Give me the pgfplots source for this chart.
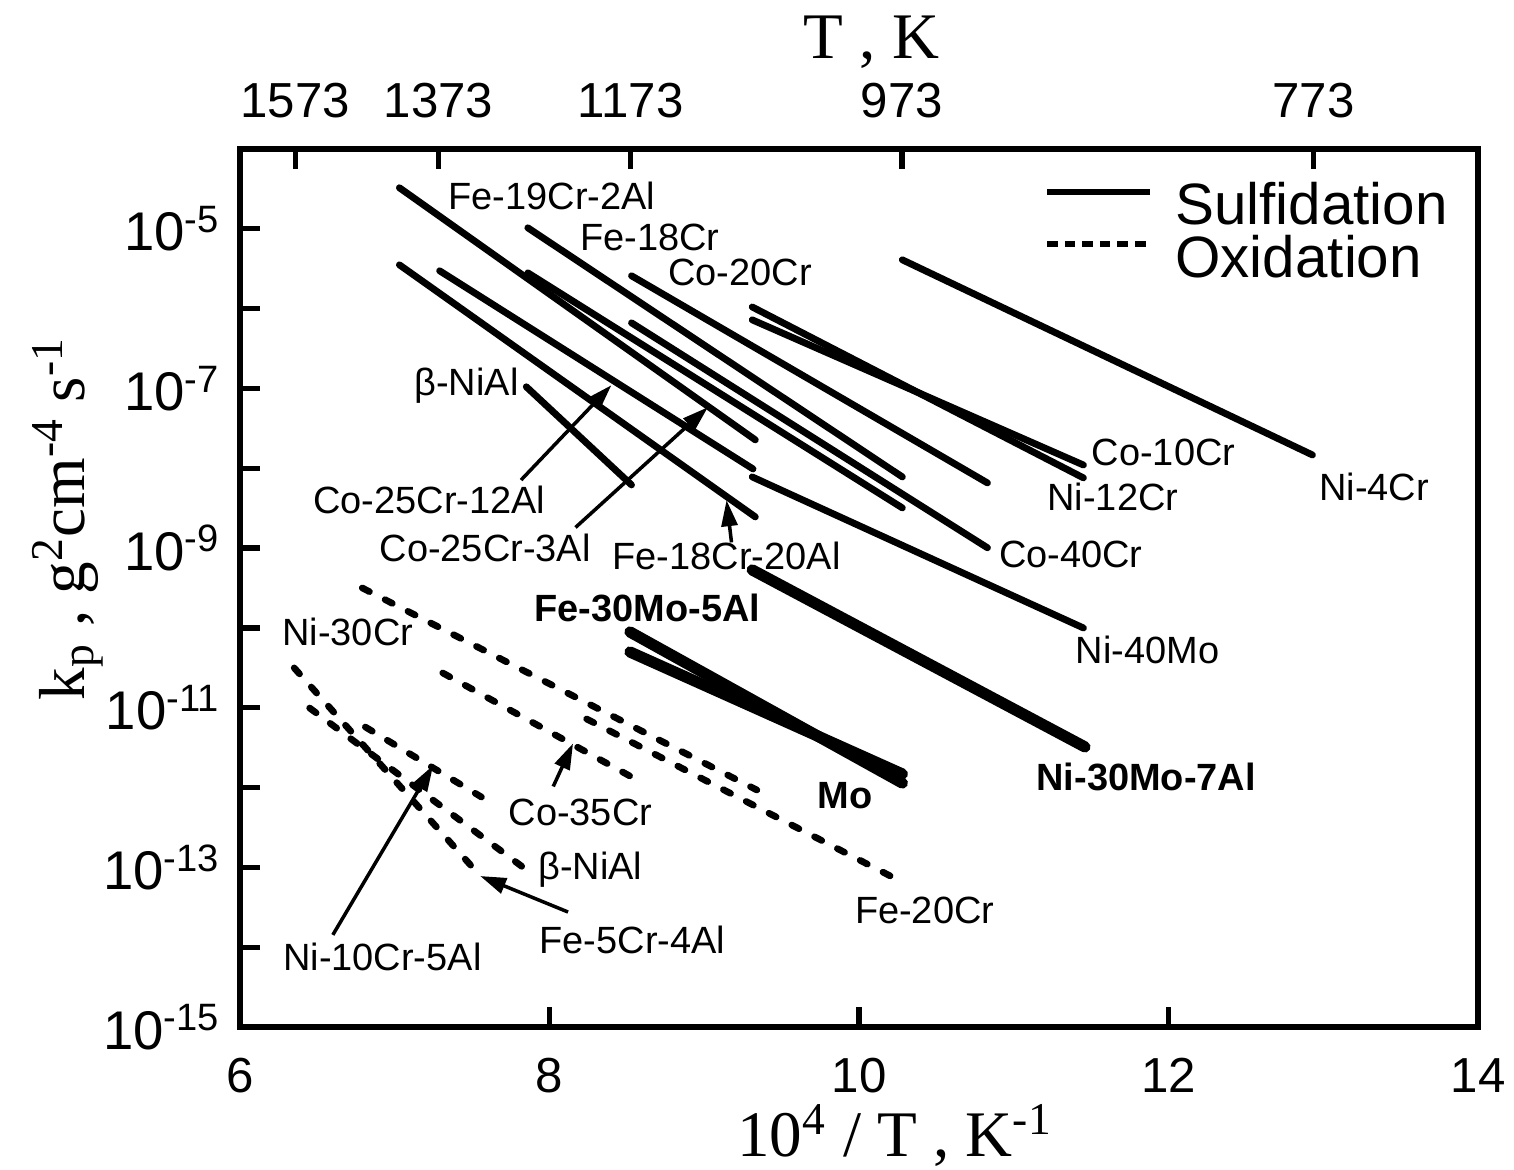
\documentclass[border=0pt]{standalone}
\usepackage{pgfplots}
\pgfplotsset{compat=1.18}
\usepackage{fontspec}
\setmainfont{Liberation Sans}
\newfontfamily\timesfont{Liberation Serif}
\usetikzlibrary{arrows.meta}

\newcommand{\lbl}{\fontsize{10.8}{12}\selectfont}
\newcommand{\axlbl}{\timesfont\fontsize{18.5}{20}\selectfont}

\tikzset{
  sulf/.style={black, line width=1.95pt, line cap=round},
  thick sulf/.style={black, line width=3.2pt, line cap=round},
  oxid/.style={black, line width=1.9pt, line cap=round, dash pattern=on 2.3pt off 5pt},
}

\begin{document}
\begin{tikzpicture}
\pgfplotsset{
  frame/.style={
    scale only axis, width=12.38cm, height=8.78cm,
    xmin=6, xmax=14,
    tick align=inside, major tick length=0.2cm,
    axis line style={line width=1.5pt},
    every tick/.style={line width=1.5pt, black},
    tick label style={font=\fontsize{14}{16}\selectfont},
    /pgf/number format/assume math mode=true,
  },
}
\begin{axis}[frame, name=main, ymode=log, ymin=1e-15, ymax=1e-4,
  xtick={6,8,10,12,14}, xtick pos=left, ytick pos=left,
  ytick={1e-15,1e-14,1e-13,1e-12,1e-11,1e-10,1e-9,1e-8,1e-7,1e-6,1e-5},
  yticklabels={{10\textsuperscript{-15}},{},{10\textsuperscript{-13}},{},{10\textsuperscript{-11}},{},{10\textsuperscript{-9}},{},{10\textsuperscript{-7}},{},{10\textsuperscript{-5}}},
  yminorticks=false,
  xticklabel style={yshift=-0.19cm},
  yticklabel style={xshift=-0.07cm, font=\fontsize{15.5}{17}\selectfont},
  clip=false]

% sulfidation
\addplot[sulf] coordinates {(7.03,3.27e-5) (9.33,2.27e-8)};   % Fe-19Cr-2Al
\addplot[sulf] coordinates {(7.86,1.03e-5) (10.28,7.80e-9)};  % Fe-18Cr
\addplot[sulf] coordinates {(8.53,2.58e-6) (10.83,6.56e-9)};  % Co-20Cr
\addplot[sulf] coordinates {(7.86,2.81e-6) (10.28,3.19e-9)};
\addplot[sulf] coordinates {(8.53,6.64e-7) (10.83,1.01e-9)};  % Co-40Cr
\addplot[sulf] coordinates {(7.29,2.98e-6) (9.315,9.82e-9)};  % Co-25Cr-12Al
\addplot[sulf] coordinates {(7.03,3.54e-6) (9.33,2.46e-9)};   % Fe-18Cr-20Al
\addplot[sulf] coordinates {(9.31,1.05e-6) (11.45,7.59e-9)};  % Ni-12Cr
\addplot[sulf] coordinates {(9.31,7.24e-7) (11.45,1.10e-8)};  % Co-10Cr
\addplot[sulf] coordinates {(10.28,4.09e-6) (12.93,1.47e-8)}; % Ni-4Cr
\addplot[sulf] coordinates {(9.31,7.80e-9) (11.45,1.00e-10)}; % Ni-40Mo
\addplot[sulf] coordinates {(7.85,1.05e-7) (8.53,6.19e-9)};   % beta-NiAl
\addplot[thick sulf] coordinates {(9.31,5.33e-10) (11.46,3.23e-12)}; % Ni-30Mo-7Al
\addplot[thick sulf] coordinates {(8.52,8.91e-11) (10.28,1.14e-12)}; % Fe-30Mo-5Al
\addplot[thick sulf] coordinates {(8.52,5.00e-11) (10.28,1.48e-12)}; % Mo

% oxidation
\addplot[oxid] coordinates {(6.79,3.17e-10) (9.34,9.33e-13)};
\addplot[oxid] coordinates {(8.24,7.24e-12) (10.29,6.38e-14)}; % Fe-20Cr
\addplot[oxid] coordinates {(7.31,2.73e-11) (8.53,1.36e-12)};  % Co-35Cr
\addplot[oxid] coordinates {(6.35,3.16e-11) (7.53,8.75e-14)};
\addplot[oxid] coordinates {(6.45,9.93e-12) (7.87,8.75e-14)};  % beta-NiAl
\addplot[oxid] coordinates {(6.81,5.74e-12) (7.56,7.62e-13)};

% labels
\begin{scope}[every node/.style={font=\lbl, inner sep=0pt}]
\node at (rel axis cs:0.252,0.946) {Fe-19Cr-2Al};
\node at (rel axis cs:0.331,0.899) {Fe-18Cr};
\node at (rel axis cs:0.404,0.860) {Co-20Cr};
\node at (rel axis cs:0.183,0.731) {β-NiAl};
\node at (rel axis cs:0.153,0.600) {Co-25Cr-12Al};
\node at (rel axis cs:0.198,0.546) {Co-25Cr-3Al};
\node at (rel axis cs:0.393,0.536) {Fe-18Cr-20Al};
\node at (rel axis cs:0.746,0.655) {Co-10Cr};
\node at (rel axis cs:0.705,0.604) {Ni-12Cr};
\node at (rel axis cs:0.916,0.615) {Ni-4Cr};
\node at (rel axis cs:0.671,0.538) {Co-40Cr};
\node at (rel axis cs:0.733,0.429) {Ni-40Mo};
\node[font=\lbl\bfseries] at (rel axis cs:0.329,0.477) {Fe-30Mo-5Al};
\node[font=\lbl\bfseries] at (rel axis cs:0.489,0.264) {Mo};
\node[font=\lbl\bfseries] at (rel axis cs:0.732,0.285) {Ni-30Mo-7Al};
\node at (rel axis cs:0.087,0.450) {Ni-30Cr};
\node at (rel axis cs:0.275,0.245) {Co-35Cr};
\node at (rel axis cs:0.283,0.179) {β-NiAl};
\node at (rel axis cs:0.317,0.099) {Fe-5Cr-4Al};
\node at (rel axis cs:0.553,0.133) {Fe-20Cr};
\node at (rel axis cs:0.115,0.080) {Ni-10Cr-5Al};
\end{scope}

\begin{scope}[line width=1pt, -{Triangle[length=0.26cm,width=0.16cm]}]
\draw (rel axis cs:0.227,0.623) -- (rel axis cs:0.300,0.731);
\draw (rel axis cs:0.271,0.569) -- (rel axis cs:0.378,0.706);
\draw (rel axis cs:0.397,0.552) -- (rel axis cs:0.393,0.600);
\draw (rel axis cs:0.253,0.274) -- (rel axis cs:0.269,0.323);
\draw (rel axis cs:0.075,0.105) -- (rel axis cs:0.156,0.298);
\draw (rel axis cs:0.265,0.131) -- (rel axis cs:0.194,0.172);
\end{scope}

% legend
\draw[sulf, line cap=butt] (rel axis cs:0.652,0.951) -- (rel axis cs:0.735,0.951);
\draw[oxid, line cap=butt, dash pattern=on 3pt off 2pt] (rel axis cs:0.652,0.892) -- (rel axis cs:0.735,0.892);
\node[anchor=west, inner sep=0pt, font=\fontsize{16.6}{18}\selectfont] at (rel axis cs:0.755,0.938) {Sulfidation};
\node[anchor=west, inner sep=0pt, font=\fontsize{16.6}{18}\selectfont] at (rel axis cs:0.755,0.877) {Oxidation};

% axis titles
\node[font=\axlbl] at (rel axis cs:0.510,1.122) {T , K};
\node[font=\axlbl] at (rel axis cs:0.529,-0.123) {10\textsuperscript{4} / T , K\textsuperscript{-1}};
\node[font=\axlbl, rotate=90] at (rel axis cs:-0.139,0.579) {k\textsubscript{p} , g\textsuperscript{2}cm\textsuperscript{-4} s\textsuperscript{-1}};
\end{axis}

\begin{axis}[frame, axis x line*=top, axis y line=none, ymin=0, ymax=1,
  xtick={6.3573,7.2833,8.5251,10.2775,12.9366},
  xticklabels={1573,1373,1173,973,773},
  xticklabel style={yshift=0.19cm}]
\end{axis}

\pgfresetboundingbox
\path ([shift={(-2.40cm,-1.42cm)}]main.south west) rectangle ([shift={(0.36cm,1.49cm)}]main.north east);
\end{tikzpicture}
\end{document}
